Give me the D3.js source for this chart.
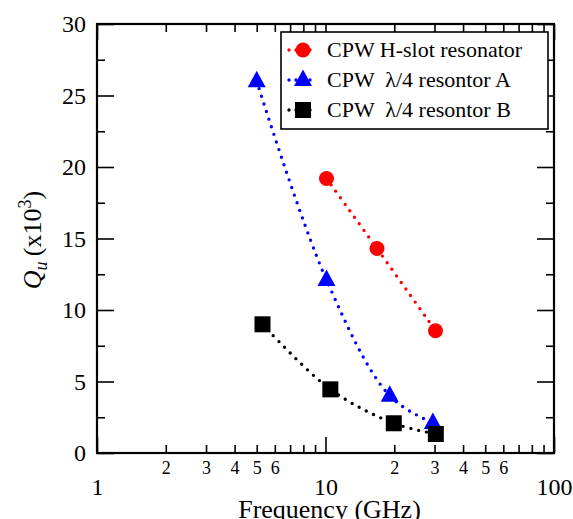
<!DOCTYPE html>
<html>
<head>
<meta charset="utf-8">
<script src="https://cdn.jsdelivr.net/npm/d3@7"></script>
<style>
  html, body { margin: 0; padding: 0; background: #fff; }
  svg { display: block; }
</style>
</head>
<body>
<svg id="chart" width="573" height="519"></svg>
<script>
// ---- data ----
const hslotFreq = [10.1, 16.8, 30.3];
const hslotQ    = [19.2, 14.3, 8.55];
const resAFreq  = [5.0, 10.1, 19.1, 29.5];
const resAQ     = [26.0, 12.1, 4.0, 2.1];
const resBFreq  = [5.3, 10.5, 19.9, 30.4];
const resBQ     = [9.0, 4.45, 2.08, 1.33];
const seriesNames = ["CPW H-slot resonator", "CPW  \u03bb/4 resontor A", "CPW  \u03bb/4 resontor B"];
const xMajorTicks = [1, 10, 100];
const xMinorTicks = [2,3,4,5,6,7,8,9,20,30,40,50,60,70,80,90];
const xMinorLabels = [2,3,4,5,6,20,30,40,50,60];
const yMajorTicks = [0,5,10,15,20,25,30];
const yMinorTicks = [2.5,7.5,12.5,17.5,22.5,27.5];

// ---- layout ----
const FONT = "'Liberation Serif', 'Times New Roman', serif";
const L = 97, R = 554, T = 24, B = 453;
const svg = d3.select("#chart");
const x = d3.scaleLog().domain([1, 100]).range([L, R]);
const y = d3.scaleLinear().domain([0, 30]).range([B, T]);

function styleAxis(g, fs) {
  g.attr("font-family", FONT);
  g.select(".domain").remove();
  g.selectAll(".tick line").attr("stroke", "#000").attr("stroke-width", 1.6);
  g.selectAll(".tick text").attr("font-size", fs).style("font-size", fs + "px").attr("fill", "#000");
}
svg.append("g").attr("transform", `translate(0,${B})`)
  .call(d3.axisBottom(x).tickValues(xMajorTicks).tickSize(-16).tickPadding(25).tickFormat(d3.format("d")))
  .call(g => styleAxis(g, 24));
svg.append("g").attr("transform", `translate(0,${B})`)
  .call(d3.axisBottom(x).tickValues(xMinorTicks).tickSize(-8).tickPadding(8)
        .tickFormat(d => xMinorLabels.includes(d) ? String(d).charAt(0) : ""))
  .call(g => styleAxis(g, 18));
svg.append("g").attr("transform", `translate(0,${T})`)
  .call(d3.axisTop(x).tickValues(xMajorTicks).tickSize(-16).tickFormat(""))
  .call(g => styleAxis(g, 24));
svg.append("g").attr("transform", `translate(0,${T})`)
  .call(d3.axisTop(x).tickValues(xMinorTicks).tickSize(-8).tickFormat(""))
  .call(g => styleAxis(g, 24));
svg.append("g").attr("transform", `translate(${L},0)`)
  .call(d3.axisLeft(y).tickValues(yMajorTicks).tickSize(-17).tickPadding(11))
  .call(g => styleAxis(g, 24));
svg.append("g").attr("transform", `translate(${L},0)`)
  .call(d3.axisLeft(y).tickValues(yMinorTicks).tickSize(-8).tickFormat(""))
  .call(g => styleAxis(g, 24));
svg.append("g").attr("transform", `translate(${R},0)`)
  .call(d3.axisRight(y).tickValues(yMajorTicks).tickSize(-17).tickFormat(""))
  .call(g => styleAxis(g, 24));
svg.append("g").attr("transform", `translate(${R},0)`)
  .call(d3.axisRight(y).tickValues(yMinorTicks).tickSize(-8).tickFormat(""))
  .call(g => styleAxis(g, 24));

// frame
svg.append("rect").attr("x", L).attr("y", T).attr("width", R - L).attr("height", B - T)
  .attr("fill", "none").attr("stroke", "#000").attr("stroke-width", 2.2);

function drawMarker(g, kind, color) {
  if (kind === "circle") {
    g.append("circle").attr("r", 7.5).attr("fill", color);
  } else if (kind === "triangle") {
    g.append("path").attr("d", "M0,-10.5L9,6L-9,6Z").attr("fill", color);
  } else {
    g.append("rect").attr("x", -8).attr("y", -8).attr("width", 16).attr("height", 16).attr("fill", color);
  }
}

const series = [
  { name: seriesNames[0], f: hslotFreq, q: hslotQ, color: "#ff0000", marker: "circle" },
  { name: seriesNames[1], f: resAFreq, q: resAQ, color: "#0000ff", marker: "triangle" },
  { name: seriesNames[2], f: resBFreq, q: resBQ, color: "#000000", marker: "square" }
];

const line = d3.line().x(d => x(d[0])).y(d => y(d[1])).curve(d3.curveCatmullRom.alpha(0.5));

series.forEach(s => {
  const pts = s.f.map((f, i) => [f, s.q[i]]);
  svg.append("path").attr("d", line(pts)).attr("fill", "none")
    .attr("stroke", s.color).attr("stroke-width", 3.4)
    .attr("stroke-linecap", "round").attr("stroke-dasharray", "0,8");
  pts.forEach(p => {
    const g = svg.append("g").attr("transform", `translate(${x(p[0])},${y(p[1])})`);
    drawMarker(g, s.marker, s.color);
  });
});

// legend
const lg = svg.append("g");
lg.append("rect").attr("x", 281).attr("y", 32).attr("width", 267).attr("height", 97)
  .attr("fill", "#fff").attr("stroke", "#000").attr("stroke-width", 1.6);
series.forEach((s, i) => {
  const cy = 50 + i * 30;
  lg.append("line").attr("x1", 289).attr("x2", 317).attr("y1", cy).attr("y2", cy)
    .attr("stroke", s.color).attr("stroke-width", 3.4)
    .attr("stroke-linecap", "round").attr("stroke-dasharray", "0,7");
  const g = lg.append("g").attr("transform", `translate(303,${cy})`);
  drawMarker(g, s.marker, s.color);
  lg.append("text").attr("x", 327).attr("y", cy + 7).style("font-size", "22px")
    .style("white-space", "pre").text(s.name);
});

// axis titles
svg.append("text").attr("x", (L + R) / 2 + 4).attr("y", 518).attr("text-anchor", "middle")
  .style("font-size", "26px").text("Frequency (GHz)");

const yt = svg.append("text").attr("transform", "translate(41,240) rotate(-90)")
  .attr("text-anchor", "middle").style("font-size", "26px");
yt.append("tspan").style("font-style", "italic").text("Q");
yt.append("tspan").style("font-style", "italic").style("font-size", "18px").attr("dy", 6).text("u");
yt.append("tspan").attr("dy", -6).text("\u2009(x10");
yt.append("tspan").style("font-size", "18px").attr("dy", -10).text("3");
yt.append("tspan").attr("dy", 10).text(")");

svg.selectAll("text").style("font-family", FONT).style("fill", "#000");
</script>
</body>
</html>
